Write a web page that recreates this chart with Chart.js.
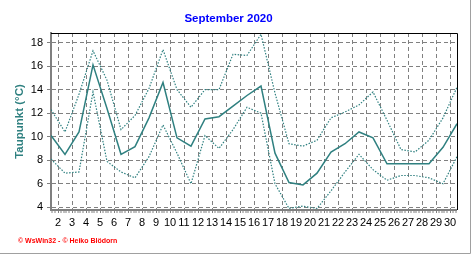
<!DOCTYPE html>
<html>
<head>
<meta charset="utf-8">
<script src="https://cdn.jsdelivr.net/npm/chart.js@4"></script>
<style>
  body { margin: 0; background: #fff; }
  canvas { display: block; }
</style>
</head>
<body>
<canvas id="chart" width="472" height="255"></canvas>
<script>
// Taupunkt September 2020 - Tageswerte
const days = [1, 2, 3, 4, 5, 6, 7, 8, 9, 10, 11, 12, 13, 14, 15, 16, 17, 18, 19, 20, 21, 22, 23, 24, 25, 26, 27, 28, 29, 30];
const dewMean = [10.1, 8.5, 10.4, 16.1, 12.4, 8.5, 9.15, 11.6, 14.6, 9.9, 9.2, 11.5, 11.7, 12.6, 13.5, 14.3, 8.6, 6.1, 5.9, 6.9, 8.7, 9.4, 10.4, 9.9, 7.7, 7.7, 7.7, 7.7, 9.1, 11.1];
const dewMax = [12.3, 10.4, 13.6, 17.3, 14.8, 10.6, 11.8, 14.1, 17.4, 14.0, 12.5, 14.0, 14.0, 17.0, 16.9, 18.7, 13.7, 9.4, 9.2, 9.7, 11.6, 12.1, 12.7, 13.8, 11.4, 8.9, 8.7, 9.7, 11.6, 14.2];
const dewMin = [8.1, 6.9, 7.0, 13.8, 7.9, 7.0, 6.5, 8.3, 11.0, 8.6, 6.0, 10.1, 9.0, 10.6, 12.5, 12.0, 6.0, 3.9, 4.1, 3.9, 5.4, 7.0, 8.5, 7.2, 6.3, 6.7, 6.7, 6.5, 6.0, 8.3];

// Beschriftung der Achsen
const dayTicks = [2, 3, 4, 5, 6, 7, 8, 9, 10, 11, 12, 13, 14, 15, 16, 17, 18, 19, 20, 21, 22, 23, 24, 25, 26, 27, 28, 29, 30];
const tempTicks = [4, 6, 8, 10, 12, 14, 16, 18];

const FONT = 'Arial, "Liberation Sans", sans-serif';
const TEAL = '#2f8080';
const GRID = '#808080';

function toPoints(values) {
  return days.map((d, i) => ({ x: d, y: values[i] }));
}

// Rahmen, Copyright
const framePlugin = {
  id: 'frame',
  afterDraw(chart) {
    const ctx = chart.ctx;
    const a = chart.chartArea;
    ctx.save();
    ctx.strokeStyle = '#000';
    ctx.lineWidth = 1;
    ctx.beginPath();
    ctx.moveTo(a.left, Math.round(a.top) + 0.5);
    ctx.lineTo(Math.round(a.right) + 0.5, Math.round(a.top) + 0.5);
    ctx.lineTo(Math.round(a.right) + 0.5, a.bottom);
    ctx.stroke();

    ctx.strokeStyle = '#a0a0a0';
    ctx.beginPath();
    ctx.moveTo(470.5, 0);
    ctx.lineTo(470.5, 253.5);
    ctx.lineTo(0, 253.5);
    ctx.stroke();

    ctx.fillStyle = '#ff0000';
    ctx.font = 'bold 7px ' + FONT;
    ctx.textBaseline = 'middle';
    ctx.fillText('© WsWin32 - © Heiko Blödorn', 18, 241);
    ctx.restore();
  }
};

new Chart(document.getElementById('chart'), {
  type: 'line',
  data: {
    datasets: [
      {
        label: 'Max',
        data: toPoints(dewMax),
        borderColor: TEAL,
        borderWidth: 1.2,
        borderDash: [1.5, 1.5],
        pointRadius: 0,
        tension: 0,
        fill: false
      },
      {
        label: 'Min',
        data: toPoints(dewMin),
        borderColor: TEAL,
        borderWidth: 1.2,
        borderDash: [1.5, 1.5],
        pointRadius: 0,
        tension: 0,
        fill: false
      },
      {
        label: 'Mittel',
        data: toPoints(dewMean),
        borderColor: TEAL,
        borderWidth: 1.5,
        pointRadius: 0,
        tension: 0,
        fill: false
      }
    ]
  },
  options: {
    responsive: false,
    animation: false,
    layout: {
      padding: { left: 0, right: 15, top: 0, bottom: 0 }
    },
    plugins: {
      legend: { display: false },
      tooltip: { enabled: false },
      title: {
        display: true,
        text: 'September 2020',
        color: '#0000ff',
        font: { family: FONT, size: 11.5, weight: 'bold' },
        padding: { top: 12, bottom: 7.2 }
      }
    },
    scales: {
      x: {
        type: 'linear',
        min: 1,
        max: 30,
        afterBuildTicks: (scale) => {
          // Hauptstriche an den Tagesgrenzen, dazwischen kleine Striche
          const ticks = [];
          for (let v = 1.1; v < 30; v += 0.2) {
            ticks.push({ value: Math.round(v * 10) / 10 });
          }
          scale.ticks = ticks;
        },
        afterFit: (scale) => {
          scale.height = 45;
        },
        ticks: {
          autoSkip: false,
          maxRotation: 0,
          padding: 3,
          color: '#000',
          font: { family: FONT, size: 11 },
          callback: (value) => {
            const label = dayTicks.find(d => Math.abs(d - 0.5 - value) < 0.01);
            return label === undefined ? '' : String(label);
          }
        },
        grid: {
          color: GRID,
          lineWidth: (ctx) => {
            const v = ctx.tick ? ctx.tick.value : 0;
            return dayTicks.some(d => Math.abs(d - 0.5 - v) < 0.01) ? 1 : 0;
          },
          tickColor: GRID,
          tickWidth: 1,
          tickLength: 3
        },
        border: {
          display: true,
          color: GRID,
          width: 2,
          dash: [4, 3]
        }
      },
      y: {
        min: 3.77,
        max: 18.81,
        afterBuildTicks: (scale) => {
          scale.ticks = tempTicks.map(v => ({ value: v }));
        },
        afterFit: (scale) => {
          scale.width = 51;
        },
        ticks: {
          padding: 4,
          color: '#000',
          font: { family: FONT, size: 11 }
        },
        grid: {
          color: GRID,
          lineWidth: 1,
          tickColor: GRID,
          tickLength: 4
        },
        border: {
          display: true,
          color: GRID,
          width: 2,
          dash: [4, 3]
        },
        title: {
          display: true,
          text: 'Taupunkt (°C)',
          color: TEAL,
          font: { family: FONT, size: 11.5, weight: 'bold' },
          padding: { top: 13, bottom: 0 }
        }
      }
    }
  },
  plugins: [framePlugin]
});
</script>
</body>
</html>
